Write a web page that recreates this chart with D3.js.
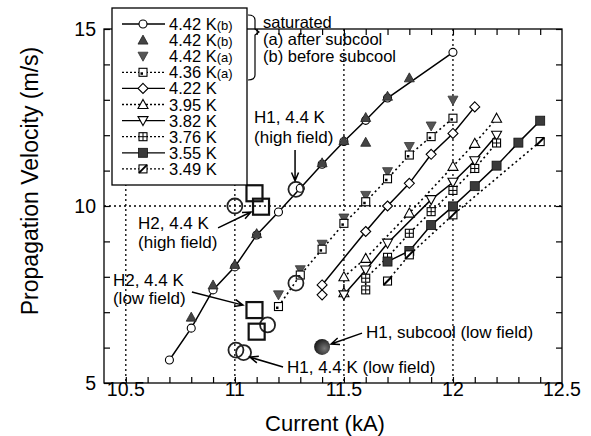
<!DOCTYPE html>
<html>
<head>
<meta charset="utf-8">
<script src="https://cdn.jsdelivr.net/npm/d3@7"></script>
<style>
  body { margin: 0; background: #fff; }
  svg { font-family: "Liberation Sans", Arial, sans-serif; }
</style>
</head>
<body>
<script>
var w = 591;
var h = 436;

var xTicks = [10.5, 11, 11.5, 12, 12.5];
var yTicks = [5, 10, 15];
var xGrid = [10.5, 11, 11.5, 12];
var yGrid = [10];

// current (kA), velocity (m/s)
var s442b = [[10.7,5.65],[10.8,6.55],[10.9,7.63],[11.0,8.28],[11.1,9.18],[11.2,9.83],[11.3,10.5],[11.4,11.18],[11.5,11.82],[11.6,12.42],[11.7,13.05],[12.0,14.34]];
var s442bTri = [[10.8,6.86],[10.9,7.77],[11.0,8.35],[11.1,9.22],[11.4,11.22],[11.5,11.85],[11.6,11.8],[11.6,12.5],[11.7,13.1],[11.8,13.62]];
var s442a = [[11.2,7.49],[11.3,8.2],[11.4,8.92],[11.5,9.66],[11.6,10.3],[11.7,10.97],[11.8,11.68],[11.9,12.26],[12.0,12.99]];
var s436a = [[11.2,7.16],[11.3,8.05],[11.4,8.78],[11.5,9.51],[11.6,10.12],[11.7,10.77],[11.8,11.44],[11.9,11.96],[12.0,12.48]];
var s422 = [[11.4,7.49],[11.4,7.77],[11.6,9.28],[11.7,10.0],[11.8,10.64],[11.9,11.46],[12.0,12.05],[12.1,12.8]];
var s395 = [[11.5,7.55],[11.5,8.0],[11.6,8.52],[11.8,9.8],[12.0,11.12],[12.1,11.77],[12.2,12.48]];
var s382 = [[11.5,7.49],[11.6,8.19],[11.7,8.95],[11.9,10.18],[12.0,10.67],[12.1,11.28],[12.2,12.0]];
var s376 = [[11.6,7.63],[11.6,7.96],[11.7,8.55],[11.8,9.23],[11.9,9.84],[12.0,10.44],[12.1,11.06],[12.2,11.78]];
var s355 = [[11.7,8.43],[11.8,8.73],[11.9,9.46],[12.0,9.99],[12.1,10.56],[12.2,11.14],[12.3,11.79],[12.4,12.41]];
var s349 = [[11.7,7.88],[11.8,8.62],[12.0,9.75],[12.4,11.82]];

// big annotated markers
var h1Big = [[11.0,10.0],[11.28,10.47],[11.28,7.82],[11.15,6.64],[11.005,5.93],[11.04,5.86]];
var h2Big = [[11.09,10.36],[11.12,9.98],[11.09,7.06],[11.10,6.45]];
var h1Subcool = [[11.4,6.02]];

var series = [
  {label: "4.42 K", sub: "(b)", data: s442b, marker: "circle", line: "solid"},
  {label: "4.42 K", sub: "(b)", data: s442bTri, marker: "triUp", line: null},
  {label: "4.42 K", sub: "(a)", data: s442a, marker: "triDown", line: null},
  {label: "4.36 K", sub: "(a)", data: s436a, marker: "squareDot", line: "dot"},
  {label: "4.22 K", sub: "", data: s422, marker: "diamond", line: "solid"},
  {label: "3.95 K", sub: "", data: s395, marker: "triUpOpen", line: "dot"},
  {label: "3.82 K", sub: "", data: s382, marker: "triDownOpen", line: "solid"},
  {label: "3.76 K", sub: "", data: s376, marker: "squareCross", line: "dot"},
  {label: "3.55 K", sub: "", data: s355, marker: "squareFill", line: "solid"},
  {label: "3.49 K", sub: "", data: s349, marker: "squareHalf", line: "dot"}
];

var xScale = d3.scaleLinear().domain([10.4, 12.5]).range([104, 562]);
var yScale = d3.scaleLinear().domain([5, 15]).range([383, 29]);

var svg = d3.select("body").append("svg")
  .attr("width", w)
  .attr("height", h);

var defs = svg.append("defs");
var grad = defs.append("radialGradient").attr("id", "ball").attr("cx", "0.65").attr("cy", "0.6").attr("r", "0.7");
grad.append("stop").attr("offset", "0").attr("stop-color", "#777");
grad.append("stop").attr("offset", "1").attr("stop-color", "#111");

// dotted grid
svg.selectAll(".vgrid").data(xGrid).enter().append("line")
  .attr("x1", function(d) { return xScale(d); })
  .attr("x2", function(d) { return xScale(d); })
  .attr("y1", yScale(15)).attr("y2", yScale(5))
  .attr("stroke", "#000").attr("stroke-width", 1.3).attr("stroke-dasharray", "2,3");
svg.selectAll(".hgrid").data(yGrid).enter().append("line")
  .attr("y1", function(d) { return yScale(d); })
  .attr("y2", function(d) { return yScale(d); })
  .attr("x1", xScale(10.4)).attr("x2", xScale(12.5))
  .attr("stroke", "#000").attr("stroke-width", 1.3).attr("stroke-dasharray", "2,3");

// axes with inward ticks on all four sides
var xMinor = d3.range(105, 125).map(function(d) { return d / 10; });
var yMinor = d3.range(5, 16);
svg.append("g").attr("transform", "translate(0," + yScale(5) + ")")
  .call(d3.axisTop(xScale).tickValues(xMinor).tickSize(6).tickFormat(""));
svg.append("g").attr("transform", "translate(0," + yScale(15) + ")")
  .call(d3.axisBottom(xScale).tickValues(xMinor).tickSize(6).tickFormat(""));
svg.append("g").attr("transform", "translate(" + xScale(10.4) + ",0)")
  .call(d3.axisRight(yScale).tickValues(yMinor).tickSize(6).tickFormat(""));
svg.append("g").attr("transform", "translate(" + xScale(12.5) + ",0)")
  .call(d3.axisLeft(yScale).tickValues(yMinor).tickSize(6).tickFormat(""));
svg.selectAll(".domain").remove();
svg.selectAll(".tick line").attr("stroke", "#000").attr("stroke-width", 1.2);

svg.append("rect")
  .attr("x", xScale(10.4)).attr("y", yScale(15))
  .attr("width", xScale(12.5) - xScale(10.4))
  .attr("height", yScale(5) - yScale(15))
  .attr("fill", "none").attr("stroke", "#000").attr("stroke-width", 1.3);

svg.selectAll(".xlab").data(xTicks).enter().append("text")
  .attr("x", function(d) { return xScale(d); })
  .attr("y", 396)
  .attr("text-anchor", "middle")
  .attr("font-size", 19.5)
  .text(function(d) { return d; });
svg.selectAll(".ylab").data(yTicks).enter().append("text")
  .attr("x", 96)
  .attr("y", function(d) { return yScale(d) + 7; })
  .attr("text-anchor", "end")
  .attr("font-size", 19.5)
  .text(function(d) { return d; });

svg.append("text").attr("x", 325).attr("y", 431)
  .attr("text-anchor", "middle").attr("font-size", 22)
  .text("Current (kA)");
svg.append("text")
  .attr("transform", "translate(38,181) rotate(-90)")
  .attr("text-anchor", "middle").attr("font-size", 23)
  .text("Propagation Velocity (m/s)");

// markers
function drawMarker(g, type) {
  var sw = 1.1;
  if (type == "circle") {
    g.append("circle").attr("r", 4).attr("fill", "#fff").attr("stroke", "#000").attr("stroke-width", sw);
  } else if (type == "triUp") {
    g.append("path").attr("d", "M0,-5L5,4L-5,4Z").attr("fill", "#444").attr("stroke", "#222").attr("stroke-width", 0.8);
  } else if (type == "triDown") {
    g.append("path").attr("d", "M0,5L5,-4L-5,-4Z").attr("fill", "#555").attr("stroke", "#333").attr("stroke-width", 0.8);
  } else if (type == "squareDot") {
    g.append("rect").attr("x", -4).attr("y", -4).attr("width", 8).attr("height", 8)
      .attr("fill", "#fff").attr("stroke", "#000").attr("stroke-width", sw);
    g.append("rect").attr("x", -2.5).attr("y", 0).attr("width", 2.5).attr("height", 2.5).attr("fill", "#000");
  } else if (type == "diamond") {
    g.append("path").attr("d", "M0,-5L5,0L0,5L-5,0Z").attr("fill", "#fff").attr("stroke", "#000").attr("stroke-width", sw);
  } else if (type == "triUpOpen") {
    g.append("path").attr("d", "M0,-5L5,4L-5,4Z").attr("fill", "#fff").attr("stroke", "#000").attr("stroke-width", sw);
  } else if (type == "triDownOpen") {
    g.append("path").attr("d", "M0,5L5,-4L-5,-4Z").attr("fill", "#fff").attr("stroke", "#000").attr("stroke-width", sw);
  } else if (type == "squareCross") {
    g.append("rect").attr("x", -4).attr("y", -4).attr("width", 8).attr("height", 8)
      .attr("fill", "#fff").attr("stroke", "#000").attr("stroke-width", sw);
    g.append("path").attr("d", "M-4,0H4M0,-4V4").attr("stroke", "#000").attr("stroke-width", 1);
  } else if (type == "squareFill") {
    g.append("rect").attr("x", -4.5).attr("y", -4.5).attr("width", 9).attr("height", 9)
      .attr("fill", "#3a3a3a").attr("stroke", "#111").attr("stroke-width", 0.8);
  } else if (type == "squareHalf") {
    g.append("rect").attr("x", -4).attr("y", -4).attr("width", 8).attr("height", 8)
      .attr("fill", "#fff").attr("stroke", "#000").attr("stroke-width", sw);
    g.append("path").attr("d", "M-4,4L4,-4").attr("stroke", "#000").attr("stroke-width", 2);
  }
}

var line = d3.line()
  .x(function(d) { return xScale(d[0]); })
  .y(function(d) { return yScale(d[1]); });

series.forEach(function(s) {
  if (!s.line) return;
  svg.append("path")
    .datum(s.data)
    .attr("d", line)
    .attr("fill", "none")
    .attr("stroke", "#000")
    .attr("stroke-width", s.line == "solid" ? 1.5 : 1.6)
    .attr("stroke-dasharray", s.line == "solid" ? null : "2,3");
});

series.forEach(function(s) {
  svg.selectAll(null).data(s.data).enter().append("g")
    .attr("transform", function(d) { return "translate(" + xScale(d[0]) + "," + yScale(d[1]) + ")"; })
    .each(function() { drawMarker(d3.select(this), s.marker); });
});

// big annotated markers
svg.selectAll(".h1big").data(h1Big).enter().append("circle")
  .attr("cx", function(d) { return xScale(d[0]); })
  .attr("cy", function(d) { return yScale(d[1]); })
  .attr("r", 7.5)
  .attr("fill", "none").attr("stroke", "#222").attr("stroke-width", 1.8);
svg.selectAll(".h2big").data(h2Big).enter().append("rect")
  .attr("x", function(d) { return xScale(d[0]) - 8; })
  .attr("y", function(d) { return yScale(d[1]) - 8; })
  .attr("width", 16).attr("height", 16)
  .attr("fill", "none").attr("stroke", "#111").attr("stroke-width", 2.2);
svg.selectAll(".sub").data(h1Subcool).enter().append("circle")
  .attr("cx", function(d) { return xScale(d[0]); })
  .attr("cy", function(d) { return yScale(d[1]); })
  .attr("r", 8)
  .attr("fill", "url(#ball)");

// annotation texts and arrows (data units)
var notes = [
  {x: 11.088, y: 12.51, t: "H1, 4.4 K"},
  {x: 11.088, y: 11.95, t: "(high field)"},
  {x: 10.556, y: 9.52, t: "H2, 4.4 K"},
  {x: 10.556, y: 8.98, t: "(high field)"},
  {x: 10.441, y: 7.91, t: "H2, 4.4 K"},
  {x: 10.441, y: 7.40, t: "(low field)"},
  {x: 11.601, y: 6.44, t: "H1, subcool (low field)"},
  {x: 11.239, y: 5.45, t: "H1, 4.4 K (low field)"}
];
svg.selectAll(".note").data(notes).enter().append("text")
  .attr("x", function(d) { return xScale(d.x); })
  .attr("y", function(d) { return yScale(d.y) + 6; })
  .attr("font-size", 17)
  .text(function(d) { return d.t; });

var arrows = [
  [11.276, 11.58, 11.276, 10.71],
  [10.923, 9.38, 11.074, 9.83],
  [10.803, 7.57, 11.037, 7.20],
  [11.583, 6.41, 11.441, 6.10],
  [11.221, 5.45, 11.069, 5.73]
];
arrows.forEach(function(a) {
  var x1 = xScale(a[0]), y1 = yScale(a[1]), x2 = xScale(a[2]), y2 = yScale(a[3]);
  var ang = Math.atan2(y2 - y1, x2 - x1);
  var L = 9, spread = 0.4;
  svg.append("path")
    .attr("d", "M" + x1 + "," + y1 + "L" + x2 + "," + y2 +
      "M" + (x2 - L * Math.cos(ang - spread)) + "," + (y2 - L * Math.sin(ang - spread)) +
      "L" + x2 + "," + y2 +
      "L" + (x2 - L * Math.cos(ang + spread)) + "," + (y2 - L * Math.sin(ang + spread)))
    .attr("fill", "none").attr("stroke", "#000").attr("stroke-width", 1.5);
});

// legend
var lg = svg.append("g");
lg.append("rect").attr("x", 112).attr("y", 8).attr("width", 135).attr("height", 177)
  .attr("fill", "#fff").attr("stroke", "#000").attr("stroke-width", 1.3);
series.forEach(function(s, i) {
  var cy = 24 + i * 16.1;
  if (s.line) {
    lg.append("line").attr("x1", 122).attr("x2", 165).attr("y1", cy).attr("y2", cy)
      .attr("stroke", "#000").attr("stroke-width", 1.3)
      .attr("stroke-dasharray", s.line == "solid" ? null : "2,2");
  }
  drawMarker(lg.append("g").attr("transform", "translate(143," + cy + ")"), s.marker);
  var t = lg.append("text").attr("x", 169).attr("y", cy + 6).attr("font-size", 16.5).text(s.label);
  if (s.sub) t.append("tspan").attr("font-size", 13).text(s.sub);
});

// brace and note
svg.append("path")
  .attr("d", "M248,15Q255,15 255,20L255,29L259,32L255,35L255,75Q255,80 248,80")
  .attr("fill", "none").attr("stroke", "#000").attr("stroke-width", 1.2);
var braceText = ["saturated", "(a) after subcool", "(b) before subcool"];
svg.selectAll(".brace").data(braceText).enter().append("text")
  .attr("x", 263)
  .attr("y", function(d, i) { return 28 + i * 17; })
  .attr("font-size", 16.5)
  .text(function(d) { return d; });
</script>
</body>
</html>
